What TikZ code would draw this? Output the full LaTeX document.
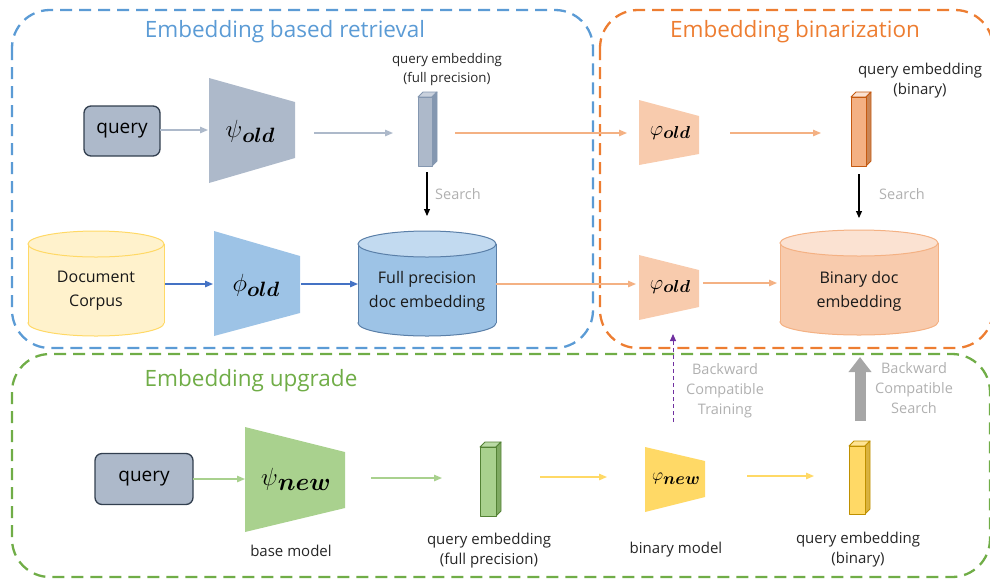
\documentclass[tikz,border=0pt]{standalone}
\usepackage{amsmath,bm}
\usepackage[no-math]{fontspec}
\setmainfont{Open Sans}
\usetikzlibrary{arrows.meta}

% palette
\definecolor{cblue}{HTML}{5B9BD5}
\definecolor{corange}{HTML}{ED7D31}
\definecolor{cgreen}{HTML}{70AD47}
\definecolor{slate}{HTML}{ADB9CA}
\definecolor{slatetop}{HTML}{C9D1DD}
\definecolor{slateside}{HTML}{8497B0}
\definecolor{slatedark}{HTML}{323F4F}
\definecolor{lblue}{HTML}{9DC3E6}
\definecolor{lbluetop}{HTML}{C2DAF0}
\definecolor{bluedark}{HTML}{5A7FA8}
\definecolor{arrblue}{HTML}{4472C4}
\definecolor{peach}{HTML}{F8CBAD}
\definecolor{peachtop}{HTML}{FBE2D2}
\definecolor{peachline}{HTML}{F4B183}
\definecolor{orbar}{HTML}{F4B183}
\definecolor{orbarside}{HTML}{C98656}
\definecolor{orbardark}{HTML}{C55A11}
\definecolor{cream}{HTML}{FFF2CC}
\definecolor{creamline}{HTML}{FFD966}
\definecolor{lgreen}{HTML}{A9D18E}
\definecolor{lgreenside}{HTML}{7FAA62}
\definecolor{dgreen}{HTML}{548235}
\definecolor{yel}{HTML}{FFD966}
\definecolor{yelside}{HTML}{D9B23F}
\definecolor{yeldark}{HTML}{BF9000}
\definecolor{purp}{HTML}{7030A0}
\definecolor{greytxt}{HTML}{B0B0B0}
\definecolor{greyarrow}{HTML}{A6A6A6}

% model symbol: glyph, glyph size, subscript, subscript size, drop
\newcommand\msym[5]{%
  {\fontsize{#2}{#2}\selectfont$#1$}\raisebox{-#5pt}{\fontsize{#4}{#4}\selectfont$\bm{#3}$}}

% 3-D embedding bar: x1,y1,x2,y2, front, top, side, border
\newcommand\embbar[8]{%
  \filldraw[fill=#6,draw=#8,line width=0.9pt,line join=round]
    (#1,#2) -- (#1+5,#2-5) -- (#3+5,#2-5) -- (#3,#2) -- cycle;
  \filldraw[fill=#7,draw=#8,line width=0.9pt,line join=round]
    (#3,#2) -- (#3+5,#2-5) -- (#3+5,#4-5) -- (#3,#4) -- cycle;
  \filldraw[fill=#5,draw=#8,line width=0.9pt,line join=round]
    (#1,#2) rectangle (#3,#4);
}
% cylinder: left, right, top-ellipse y, bottom-ellipse y, radius y, body, top, border
\newcommand\dbcyl[8]{%
  \filldraw[fill=#6,draw=#8,line width=1pt] ({(#1+#2)/2},#4) ellipse [x radius={(#2-#1)/2}, y radius=#5];
  \fill[#6] (#1,#3) rectangle (#2,#4);
  \draw[#8,line width=1pt] (#1,#3) -- (#1,#4) (#2,#3) -- (#2,#4);
  \filldraw[fill=#7,draw=#8,line width=1pt] ({(#1+#2)/2},#3) ellipse [x radius={(#2-#1)/2}, y radius=#5];
}

\tikzset{
  groupbox/.style={line width=2.3pt, dash pattern=on 12pt off 7pt, rounded corners=38pt},
  arr/.style={line width=1.3pt, -{Triangle[length=8pt,width=6.5pt]}},
  searcharr/.style={line width=1.1pt, black, -{Triangle[length=7pt,width=6pt]}},
  qbox/.style={draw=slatedark, fill=slate, line width=1.3pt, rounded corners=7pt,
    font=\fontsize{19}{22}\selectfont},
  lbl/.style={align=center, font=\fontsize{15}{20}\selectfont, text=black!85},
  smalllbl/.style={align=center, font=\fontsize{13.3}{19}\selectfont, text=black!85},
  greylbl/.style={align=center, font=\fontsize{14.5}{20}\selectfont, text=greytxt},
  cyltxt/.style={align=center, font=\fontsize{16}{24}\selectfont, text=black!90},
  title/.style={font=\fontsize{22.5}{26}\selectfont},
  every node/.style={inner sep=0pt, outer sep=0pt},
}

\begin{document}
\begin{tikzpicture}[x=1pt,y=-1pt]
\useasboundingbox (0,0) rectangle (990,582);

% ---------- group frames ----------
\begin{scope}
\clip (0,0) rectangle (990,582);
\draw[groupbox, cblue] (12,10) rectangle (593,348);
\draw[groupbox, corange] (600,10) rectangle (993,348);
\draw[groupbox, cgreen] (12,354) rectangle (990,577);
\end{scope}

\node[title, text=cblue]   (t1) at (285,32) {Embedding based retrieval};
\node[title, text=corange] (t2) at (795,32) {Embedding binarization};
\node[title, text=cgreen]  (t3) at (251,381) {Embedding upgrade};

% ---------- old query path ----------
\node[qbox, minimum width=76pt, minimum height=50pt] (q1) at (122,131) {query};
\fill[slate] (209,78) -- (209,183) -- (295,158) -- (295,102) -- cycle;
\node (psiold) at (250,131) {\msym{\psi}{28}{old}{22.5}{5}};
\coordinate (psiold-in) at (208,130);
\coordinate (psiold-out) at (314,133);

\embbar{418}{97}{432}{166}{slate}{slatetop}{slateside}{slateside}
\coordinate (e1-in) at (393,133);
\coordinate (e1-out) at (455,133);
\coordinate (e1-bot) at (427,172);
\node[smalllbl] (e1lbl) at (447,70) {query embedding\\(full precision)};

\fill[peach] (639,100) -- (639,165) -- (699,154) -- (699,116) -- cycle;
\node (phib1) at (670,133) {\msym{\varphi}{20}{old}{17.5}{3.5}};
\coordinate (phib1-in) at (627,133);
\coordinate (phib1-out) at (730,133);

\embbar{851}{97}{866}{166}{orbar}{peachtop}{orbarside}{orbardark}
\coordinate (e2-in) at (821,133);
\coordinate (e2-bot) at (859,174);
\node[lbl] (e2lbl) at (920,81) {query embedding\\(binary)};

% ---------- document path ----------
\dbcyl{28}{164}{244}{323}{13}{cream}{cream}{creamline}
\node[cyltxt] (corpus) at (96,291) {Document\\Corpus};
\coordinate (corpus-out) at (165,284);

\fill[lblue] (214,231) -- (214,336) -- (300,313) -- (300,256) -- cycle;
\node (phiold) at (256,285) {\msym{\phi}{28}{old}{22}{5}};
\coordinate (phiold-in) at (213,284);
\coordinate (phiold-out) at (301,284);

\dbcyl{358}{496}{244}{323}{13}{lblue}{lbluetop}{bluedark}
\node[cyltxt] (fpdoc) at (427,291) {Full precision\\doc embedding};
\coordinate (fpdoc-in) at (358,284);
\coordinate (fpdoc-out) at (496,284);
\coordinate (fpdoc-top) at (427,216);

\fill[peach] (639,255) -- (639,320) -- (699,307) -- (699,270) -- cycle;
\node (phib2) at (670,287) {\msym{\varphi}{20}{old}{17.5}{3.5}};
\coordinate (phib2-in) at (636,284);
\coordinate (phib2-out) at (703,283);

\dbcyl{780}{938}{243}{322}{13}{peach}{peachtop}{peachline}
\node[cyltxt] (bindoc) at (859,291) {Binary doc\\embedding};
\coordinate (bindoc-in) at (777,283);
\coordinate (bindoc-top) at (859,218);
\coordinate (bindoc-bot) at (860,357);

% ---------- upgrade path ----------
\node[qbox, minimum width=98pt, minimum height=51pt] (q2) at (144,479) {query};
\fill[lgreen] (245,427) -- (245,532) -- (345,508) -- (345,452) -- cycle;
\node (psinew) at (296,479) {\msym{\psi}{28}{new}{24}{5}};
\node[lbl] (basemodel) at (291,551) {base model};
\coordinate (psinew-in) at (245,479);
\coordinate (psinew-out) at (371,478);

\embbar{480}{447}{496}{516}{lgreen}{lgreen!80!white}{lgreenside}{dgreen}
\node[lbl] (e3lbl) at (489,551) {query embedding\\(full precision)};
\coordinate (e3-in) at (442,478);
\coordinate (e3-out) at (540,477);

\fill[yel] (645,447) -- (645,512) -- (705,497) -- (705,461) -- cycle;
\node (phinew) at (676,479) {\msym{\varphi}{19}{new}{16.5}{3.5}};
\node[lbl] (binmodel) at (676,550) {binary model};
\coordinate (phinew-in) at (607,477);
\coordinate (phinew-out) at (747,476);
\coordinate (phinew-top) at (673,422);
\coordinate (phib2-bot) at (673,334);

\embbar{849}{446}{865}{514}{yel}{yel!70!white}{yelside}{yeldark}
\node[lbl] (e4lbl) at (858,550) {query embedding\\(binary)};
\coordinate (e4-in) at (814,476);
\coordinate (e4-top) at (860,421);

% ---------- connectors ----------
\draw[arr, slate] (q1.east |- psiold-in) -- (psiold-in);
\draw[arr, slate] (psiold-out) -- (e1-in);
\draw[arr, peachline] (e1-out) -- (phib1-in);
\draw[arr, peachline] (phib1-out) -- (e2-in);
\draw[searcharr] (e1-bot) -- (fpdoc-top);
\draw[searcharr] (e2-bot) -- (bindoc-top);
\node[greylbl] (s1) at (458,194) {Search};
\node[greylbl] (s2) at (902,194) {Search};

\draw[arr, arrblue] (corpus-out) -- (phiold-in);
\draw[arr, arrblue] (phiold-out) -- (fpdoc-in);
\draw[arr, peachline] (fpdoc-out) -- (phib2-in);
\draw[arr, peachline] (phib2-out) -- (bindoc-in);

\draw[arr, lgreen] (q2.east) -- (psinew-in);
\draw[arr, lgreen] (psinew-out) -- (e3-in);
\draw[arr, yel] (e3-out) -- (phinew-in);
\draw[arr, yel] (phinew-out) -- (e4-in);

\draw[purp, line width=1pt, dash pattern=on 4pt off 3pt, -{Triangle[length=7pt,width=6pt]}]
  (phinew-top) -- (phib2-bot);
\node[greylbl] (bct) at (725,391) {Backward\\Compatible\\Training};

\draw[greyarrow, line width=11pt, -{Triangle[length=15pt,width=22pt]}]
  (e4-top) -- (bindoc-bot);
\node[greylbl] (bcs) at (914,388) {Backward\\Compatible\\Search};

\end{tikzpicture}
\end{document}
